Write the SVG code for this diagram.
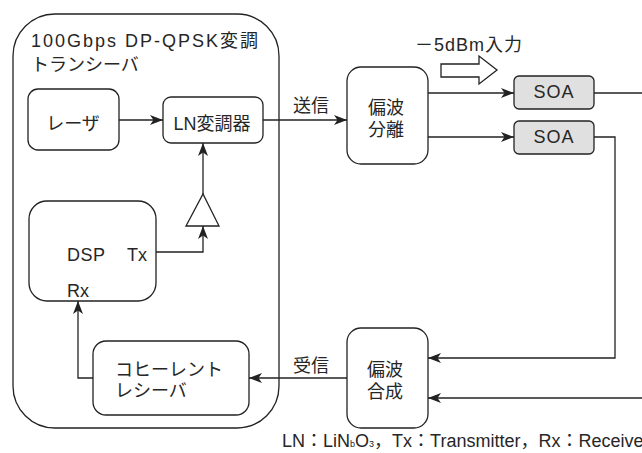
<svg xmlns="http://www.w3.org/2000/svg" width="642" height="453" viewBox="0 0 642 453">
<defs>
<style>
text{font-family:"Liberation Sans","Noto Sans CJK JP",sans-serif;fill:#262626;font-size:18px}
.box{fill:#fff;stroke:#222;stroke-width:1.3}
.soa{fill:#e0e0e0;stroke:#222;stroke-width:1.3}
.ln{fill:none;stroke:#222;stroke-width:1.3}
.c{text-anchor:middle}
</style>
<marker id="ah" markerWidth="14" markerHeight="10" refX="13" refY="5" orient="auto" markerUnits="userSpaceOnUse">
<path d="M0,0 L13,5 L0,10 L3.5,5 z" fill="#222"/>
</marker>
</defs>
<rect width="642" height="453" fill="#fff"/>

<g id="transceiver">
<rect class="box" x="13" y="14" width="266" height="414" rx="42"/>
<text x="31" y="47" font-size="17.5" letter-spacing="2">100Gbps DP-QPSK変調</text>
<text x="31" y="71" font-size="17.5">トランシーバ</text>
</g>

<g id="laser">
<rect class="box" x="28" y="89" width="91" height="61" rx="10"/>
<text class="c" x="73" y="130">レーザ</text>
</g>

<g id="ln-modulator">
<rect class="box" x="163" y="97" width="100" height="46" rx="8"/>
<text class="c" x="212" y="130">LN変調器</text>
</g>

<g id="amp">
<polygon class="box" points="186,226 219,226 203,194"/>
</g>

<g id="dsp">
<rect class="box" x="29" y="201" width="127" height="100" rx="18"/>
<text x="67" y="261" font-size="20" letter-spacing="0.5">DSP</text>
<text x="127" y="261" font-size="20">Tx</text>
<text x="67" y="297" font-size="20">Rx</text>
</g>

<g id="coherent-receiver">
<rect class="box" x="93" y="341" width="156" height="74" rx="13"/>
<text x="115" y="376">コヒーレント</text>
<text x="115" y="397">レシーバ</text>
</g>

<g id="pol-split">
<rect class="box" x="347" y="67" width="81" height="97" rx="14"/>
<text class="c" x="386" y="114">偏波</text>
<text class="c" x="386" y="136">分離</text>
</g>

<g id="pol-combine">
<rect class="box" x="347" y="328" width="81" height="100" rx="14"/>
<text class="c" x="385" y="376">偏波</text>
<text class="c" x="385" y="398">合成</text>
</g>

<g id="soa1">
<rect class="soa" x="514" y="76" width="80" height="33" rx="5"/>
<text class="c" x="554" y="98" font-size="18.5" letter-spacing="1">SOA</text>
</g>

<g id="soa2">
<rect class="soa" x="514" y="121" width="80" height="33" rx="5"/>
<text class="c" x="554" y="143" font-size="18.5" letter-spacing="1">SOA</text>
</g>

<g id="input-label">
<polygon class="box" points="441,64 479,64 479,56 497,70 479,84 479,77 441,77"/>
<text x="415" y="51" font-size="17" letter-spacing="1">－5dBm入力</text>
</g>

<g id="connectors">
<line class="ln" x1="119" y1="120" x2="163" y2="120" marker-end="url(#ah)"/>
<line class="ln" x1="263" y1="120" x2="347" y2="120" marker-end="url(#ah)"/>
<line class="ln" x1="428" y1="93" x2="514" y2="93" marker-end="url(#ah)"/>
<line class="ln" x1="428" y1="137" x2="514" y2="137" marker-end="url(#ah)"/>
<line class="ln" x1="594" y1="93" x2="642" y2="93"/>
<polyline class="ln" points="594,137 615,137 615,358 428,358" marker-end="url(#ah)"/>
<line class="ln" x1="642" y1="398" x2="428" y2="398" marker-end="url(#ah)"/>
<line class="ln" x1="347" y1="378" x2="249" y2="378" marker-end="url(#ah)"/>
<polyline class="ln" points="93,378 78,378 78,301" marker-end="url(#ah)"/>
<polyline class="ln" points="156,252 203,252 203,226" marker-end="url(#ah)"/>
<line class="ln" x1="203" y1="194" x2="203" y2="143" marker-end="url(#ah)"/>
<text x="293" y="112">送信</text>
<text x="293" y="372">受信</text>
</g>

<text x="282" y="447" font-size="14">LN：LiN<tspan font-size="9">b</tspan>O<tspan font-size="9">3</tspan>，Tx：Transmitter，Rx：Receiver</text>
</svg>
